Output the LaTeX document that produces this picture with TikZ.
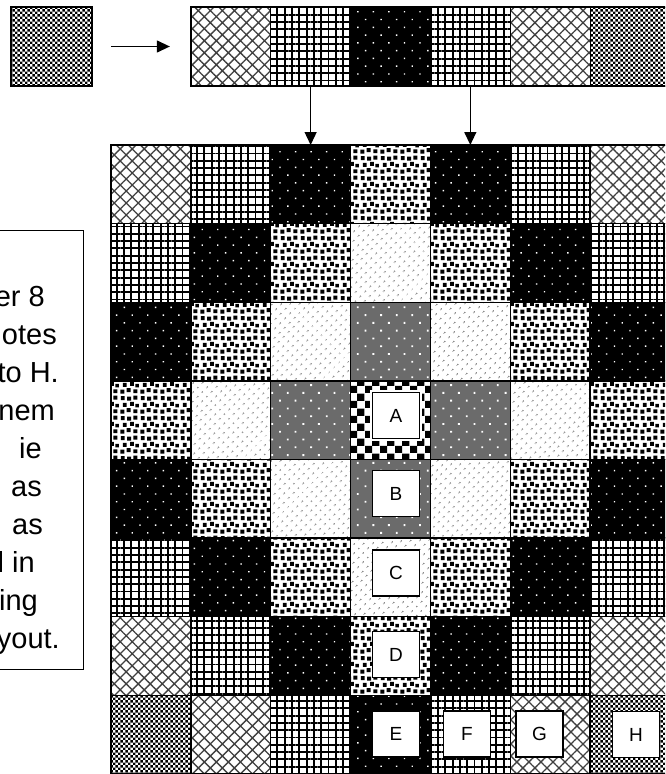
\documentclass[tikz,border=0pt]{standalone}
\usepackage{fontspec}
\setmainfont{Liberation Sans}
\usetikzlibrary{patterns,patterns.meta,arrows.meta}

\tikzdeclarepattern{
  name=fcheck, type=uncolored,
  bottom left={(0pt,0pt)}, top right={(5.4pt,5.4pt)}, tile size={(5.4pt,5.4pt)},
  code={\fill (0pt,0pt) rectangle (2.7pt,2.7pt); \fill (2.7pt,2.7pt) rectangle (5.4pt,5.4pt);}
}
\tikzdeclarepattern{
  name=bigcheck, type=uncolored,
  bottom left={(0pt,0pt)}, top right={(14.6pt,14.6pt)}, tile size={(14.6pt,14.6pt)},
  code={\fill (0pt,0pt) rectangle (7.3pt,7.3pt); \fill (7.3pt,7.3pt) rectangle (14.6pt,14.6pt);}
}
\tikzdeclarepattern{
  name=confetti, type=uncolored,
  bottom left={(0pt,0pt)}, top right={(20pt,20pt)}, tile size={(20pt,20pt)},
  code={
    \fill (0.5pt,0.5pt) rectangle ++(4pt,4pt);
    \fill (7pt,2pt) rectangle ++(4pt,4pt);
    \fill (14pt,0.8pt) rectangle ++(4pt,4pt);
    \fill (3pt,7.5pt) rectangle ++(4pt,4pt);
    \fill (10.5pt,8.5pt) rectangle ++(4pt,4pt);
    \fill (16pt,7pt) rectangle ++(3.6pt,3.6pt);
    \fill (0.8pt,14.5pt) rectangle ++(4pt,4pt);
    \fill (7.5pt,14pt) rectangle ++(4pt,4pt);
    \fill (14pt,15pt) rectangle ++(4pt,4pt);
  }
}

\begin{document}
\begin{tikzpicture}[x=1pt,y=-1pt,
  cell/.style={draw=black, line width=1.4pt, minimum width=79.85pt, minimum height=78.6pt, inner sep=0pt, outer sep=0pt},
  scell/.style={draw=black, line width=1pt, minimum width=79.85pt, minimum height=79pt, inner sep=0pt, outer sep=0pt},
  pat0/.style={preaction={fill=white}, pattern=bigcheck, pattern color=black},
  pat1/.style={preaction={fill=black!58}, pattern={Dots[angle=45,distance=11pt,radius=1.3pt]}, pattern color=white},
  pat2/.style={preaction={fill=white}, pattern={Dots[angle=45,distance=6.5pt,radius=0.9pt]}, pattern color=black!80},
  pat3/.style={preaction={fill=white}, pattern=confetti, pattern color=black},
  pat4/.style={preaction={fill=black}, pattern={Dots[angle=45,distance=11pt,radius=1pt]}, pattern color=white},
  pat5/.style={preaction={fill=white}, pattern={Hatch[angle=0,distance=7.3pt,line width=1.9pt]}, pattern color=black},
  pat6/.style={preaction={fill=white}, pattern={Hatch[angle=45,distance=8.5pt,line width=1.3pt]}, pattern color=black!75},
  pat7/.style={preaction={fill=white}, pattern=fcheck, pattern color=black},
  lbl/.style={draw=black, fill=white, line width=1.8pt, minimum width=47pt, minimum height=46pt, inner sep=0pt, font=\fontsize{19}{19}\selectfont},
  arr/.style={line width=1.3pt, -{Triangle[length=13pt,width=12pt]}},
  txt/.style={anchor=base east, inner sep=0pt, font=\fontsize{29}{38}\selectfont}
]
\useasboundingbox (0,0) rectangle (665,774);
\clip (0,0) rectangle (665,774);

% source square and strip
\node[scell, pat7, line width=2pt, minimum width=81pt] (src) at (51.5,46.5) {};
\foreach \k/\d in {2/6,3/5,4/4,5/5,6/6,7/7}{
  \node[scell, pat\d] (s\k) at ({111+79.85*(\k-0.5)},46.5) {};
}
\draw[line width=2pt] (s2.north west) rectangle (s7.south east);

% main grid
\foreach \r in {1,...,8}{
  \foreach \c in {1,...,7}{
    \pgfmathtruncatemacro{\d}{abs(\r-4)+abs(\c-4)}
    \node[cell, pat\d] (g-\r-\c) at ({111+79.85*(\c-0.5)},{145+78.6*(\r-0.5)}) {};
  }
}

% arrows
\draw[arr, shorten <=19pt, shorten >=21pt] (src.east) -- (s2.west);
\draw[arr] (s3.south) -- (g-1-3.north);
\draw[arr] (s5.south) -- (g-1-5.north);

% labels
\node[lbl, preaction={draw=white, line width=5pt}] (lA) at (396,415.5) {A};
\node[lbl] (lB) at (396,493.5) {B};
\node[lbl] (lC) at (396,573) {C};
\node[lbl] (lD) at (396,654.5) {D};
\node[lbl] (lE) at (396,734) {E};
\node[lbl] (lF) at (467,734) {F};
\node[lbl] (lG) at (539.5,734) {G};
\node[lbl] (lH) at (636,734.5) {H};

% text box
\node[draw=black, line width=1.3pt, minimum width=130pt, minimum height=439pt, inner sep=0pt, anchor=north east] (tbox) at (84,230) {};
\node[txt] (t1) at (45,306) {er 8};
\node[txt] (t2) at (57,344) {otes};
\node[txt] (t3) at (59,382) {to H.};
\node[txt] (t4) at (55,420) {nem};
\node[txt] (t5) at (42,458) {ie};
\node[txt] (t6) at (42,496) {as};
\node[txt] (t7) at (43,534) {as};
\node[txt] (t8) at (35,572) {l in};
\node[txt] (t9) at (38,610) {ing};
\node[txt] (t10) at (60,648) {yout.};
\end{tikzpicture}
\end{document}
